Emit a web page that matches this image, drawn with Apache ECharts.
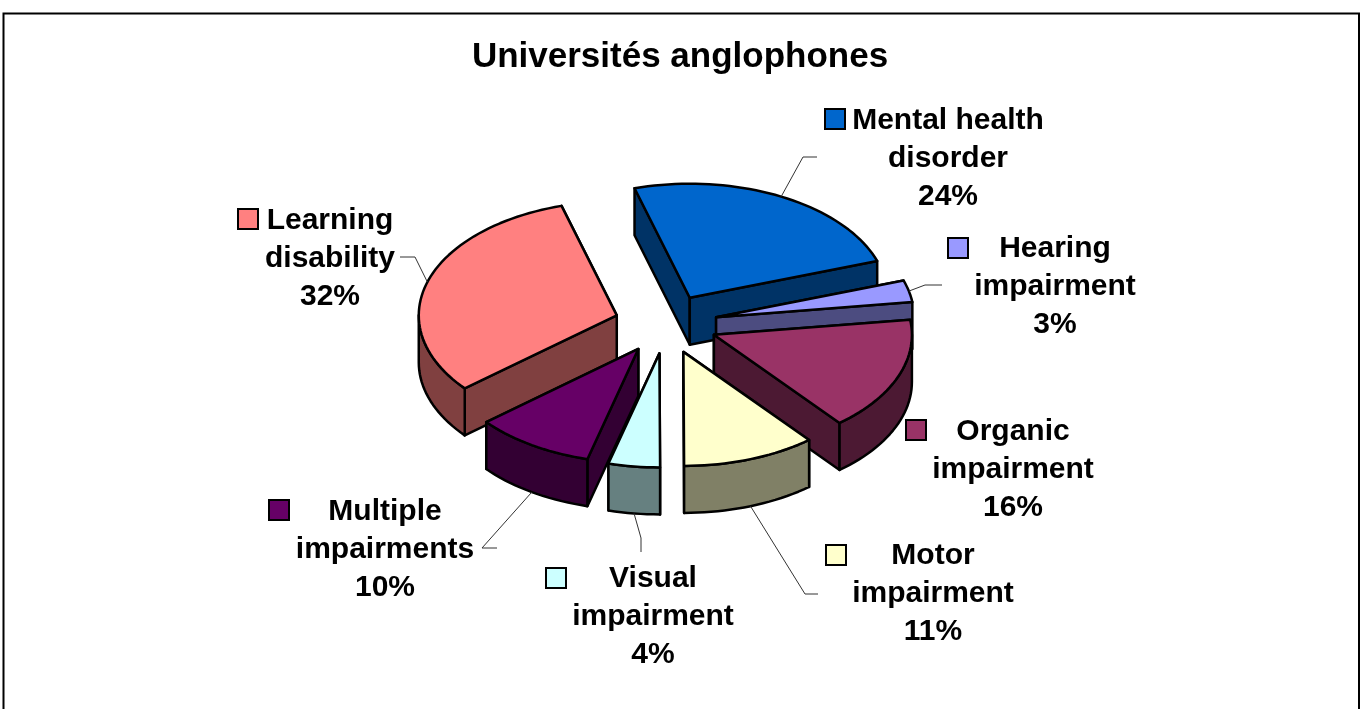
<!DOCTYPE html>
<html>
<head>
<meta charset="utf-8">
<title>Universités anglophones</title>
<script src="https://cdn.jsdelivr.net/npm/echarts@6/dist/echarts.min.js"></script>
<style>
  html, body { margin: 0; padding: 0; background: #fff; }
  #chart { width: 1364px; height: 709px; }
</style>
</head>
<body>
<div id="chart"></div>
<script>
const chartTitle = 'Universités anglophones';
const categories = [
  'Mental health\ndisorder',
  'Hearing\nimpairment',
  'Organic\nimpairment',
  'Motor\nimpairment',
  'Visual\nimpairment',
  'Multiple\nimpairments',
  'Learning\ndisability'
];
// the printed labels are rounded, these are estimated from the slice angles
const shares = [24.3, 3.1, 16.2, 10.9, 4.2, 9.8, 31.6];

const topColors = ['#0066cc', '#9999ff', '#993366', '#ffffcc', '#ccffff', '#660066', '#ff8080'];
const wallColors = ['#003366', '#4c4c80', '#4c1933', '#808066', '#668080', '#330033', '#804040'];

// painter's order of the slices, back one first
const drawRank = [0, 2, 3, 6, 4, 5, 1];

// pie geometry, the tilt is faked with an ellipse
const pie = { cx: 666, cy: 324, rx: 198, ry: 114, depth: 47, explode: 0.26, firstAngle: 343.8 };

// text centre + first line, legend key corner, leader elbow (empty = no leader)
const labelBoxes = [
  { x: 948, y: 121, keyX: 825, keyY: 109, leader: [[817, 157], [803, 157]] },
  { x: 1055, y: 249, keyX: 948, keyY: 238, leader: [[942, 285], [925, 285]] },
  { x: 1013, y: 432, keyX: 906, keyY: 420, leader: [] },
  { x: 933, y: 556, keyX: 826, keyY: 545, leader: [[818, 594], [805, 594]] },
  { x: 653, y: 579, keyX: 546, keyY: 568, leader: [[641, 552], [641, 538]] },
  { x: 385, y: 512, keyX: 269, keyY: 500, leader: [[497, 548], [482, 548]] },
  { x: 330, y: 221, keyX: 238, keyY: 209, leader: [[400, 257], [415, 257]] }
];

const labelFont = 'bold 30px "Liberation Sans", Arial, sans-serif';
const total = shares.reduce((a, b) => a + b, 0);

const rad = (deg) => (deg * Math.PI) / 180;

// angles are clockwise from 12 o'clock
const sliceAngles = (index) => {
  const before = shares.slice(0, index).reduce((a, b) => a + b, 0);
  const start = pie.firstAngle - 360 + (before / total) * 360;
  return { start, end: start + (shares[index] / total) * 360 };
};

const rimPoint = (apex, deg, drop) => [
  apex[0] + pie.rx * Math.sin(rad(deg)),
  apex[1] - pie.ry * Math.cos(rad(deg)) + drop
];

const arcPoints = (apex, from, to, drop) => {
  const pts = [];
  const steps = Math.max(2, Math.ceil((to - from) / 2));
  for (let i = 0; i <= steps; i++) {
    pts.push(rimPoint(apex, from + ((to - from) * i) / steps, drop));
  }
  return pts;
};

const facet = (points, fill, z2) => ({
  type: 'polygon',
  z2,
  shape: { points },
  style: { fill, stroke: '#000', lineWidth: 2.5, lineJoin: 'round' }
});

const renderSlice = (params, api) => {
  const i = api.value(0);
  const { start, end } = sliceAngles(i);
  const mid = (start + end) / 2;
  const apex = [
    pie.cx + pie.explode * pie.rx * Math.sin(rad(mid)),
    pie.cy - pie.explode * pie.ry * Math.cos(rad(mid))
  ];
  const lower = [apex[0], apex[1] + pie.depth];
  const base = drawRank[i] * 10;
  const children = [];

  // radial faces, the one nearer the viewer goes on top
  const faces = [start, end].sort((a, b) => Math.cos(rad(b)) - Math.cos(rad(a)));
  faces.forEach((deg, k) => {
    children.push(facet([apex, rimPoint(apex, deg, 0), rimPoint(apex, deg, pie.depth), lower], wallColors[i], base + k));
  });

  // outer wall, only the front half of the rim shows
  const from = Math.max(start, 90);
  const to = Math.min(end, 270);
  if (to > from) {
    const wall = arcPoints(apex, from, to, 0).concat(arcPoints(apex, from, to, pie.depth).reverse());
    children.push(facet(wall, wallColors[i], base + 2));
  }

  children.push(facet([apex].concat(arcPoints(apex, start, end, 0)), topColors[i], base + 3));

  // label, key and leader
  const box = labelBoxes[i];
  if (box.leader.length) {
    const front = Math.cos(rad(mid)) < 0;
    const anchor = rimPoint(apex, mid, front ? pie.depth : 0);
    children.push({
      type: 'polyline',
      z2: 100,
      shape: { points: box.leader.concat([anchor]) },
      style: { fill: 'none', stroke: '#333', lineWidth: 1 }
    });
  }
  children.push({
    type: 'rect',
    z2: 100,
    shape: { x: box.keyX, y: box.keyY, width: 20, height: 20 },
    style: { fill: topColors[i], stroke: '#000', lineWidth: 2 }
  });
  children.push({
    type: 'text',
    z2: 100,
    style: {
      text: categories[i] + '\n' + Math.round(shares[i]) + '%',
      x: box.x,
      y: box.y - 19,
      align: 'center',
      verticalAlign: 'top',
      font: labelFont,
      lineHeight: 38,
      fill: '#000'
    }
  });

  return { type: 'group', children };
};

const chart = echarts.init(document.getElementById('chart'), null, { renderer: 'canvas' });
chart.setOption({
  animation: false,
  backgroundColor: '#fff',
  title: {
    text: chartTitle,
    left: 675,
    top: 35,
    textAlign: 'center',
    textStyle: {
      fontFamily: '"Liberation Sans", Arial, sans-serif',
      fontWeight: 'bold',
      fontSize: 35,
      color: '#000'
    }
  },
  graphic: [
    {
      type: 'polyline',
      silent: true,
      shape: { points: [[3.5, 709], [3.5, 13.5], [1359, 13.5], [1359, 709]] },
      style: { fill: 'none', stroke: '#000', lineWidth: 2 }
    }
  ],
  series: [
    {
      type: 'custom',
      coordinateSystem: 'none',
      silent: true,
      renderItem: renderSlice,
      data: shares.map((share, i) => [i, share])
    }
  ]
});
</script>
</body>
</html>
